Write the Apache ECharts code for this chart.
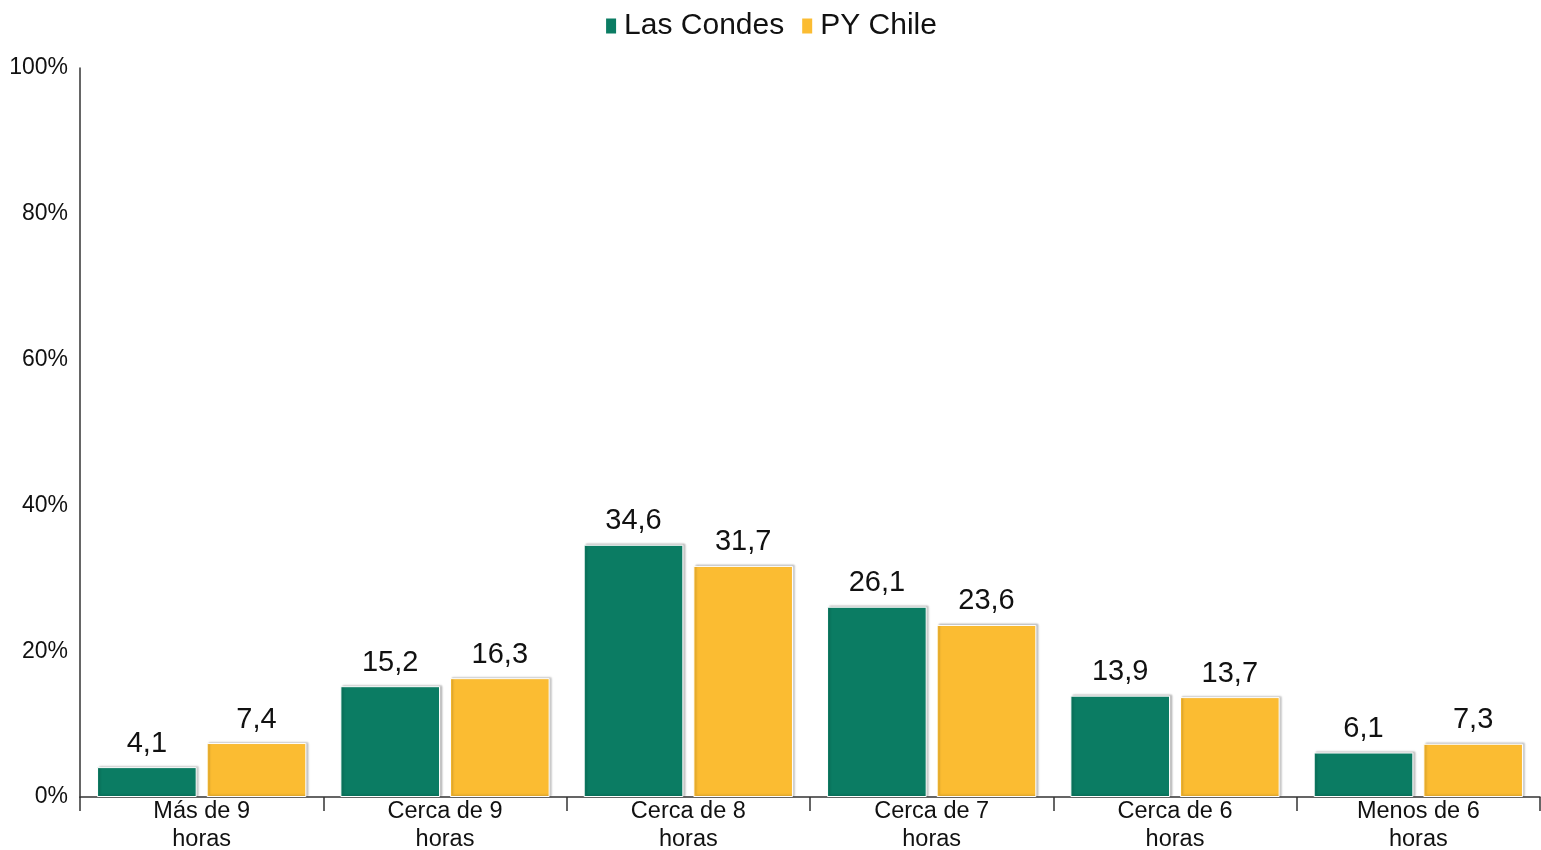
<!DOCTYPE html>
<html>
<head>
<meta charset="utf-8">
<script src="https://cdn.jsdelivr.net/npm/echarts@6/dist/echarts.min.js"></script>
<style>
  html, body { margin: 0; padding: 0; background: #fff; overflow: hidden; }
  #chart { width: 1541px; height: 850px; }
</style>
</head>
<body>
<div id="chart"></div>
<script>
// categorias de horas de sueño
const categories = ['Más de 9\nhoras', 'Cerca de 9\nhoras', 'Cerca de 8\nhoras', 'Cerca de 7\nhoras', 'Cerca de 6\nhoras', 'Menos de 6\nhoras'];
const lasCondes = [4.1, 15.2, 34.6, 26.1, 13.9, 6.1];
const pyChile = [7.4, 16.3, 31.7, 23.6, 13.7, 7.3];
const seriesNames = ['Las Condes', 'PY Chile'];

const font = 'Liberation Sans, Arial, sans-serif';

function barStyle(color) {
  return {
    color: color,
    borderColor: '#ffffff',
    borderWidth: 1,
    shadowColor: 'rgba(0,0,0,0.22)',
    shadowBlur: 2,
    shadowOffsetX: 2,
    shadowOffsetY: -1
  };
}

const labelStyle = {
  show: true,
  position: 'top',
  distance: 9,
  fontFamily: font,
  fontSize: 29,
  color: '#111',
  formatter: p => String(p.value).replace('.', ',')
};

let myChart = echarts.init(document.getElementById('chart'));
myChart.setOption({
  animation: false,
  textStyle: { fontFamily: font },
  legend: {
    data: seriesNames,
    top: 6,
    left: 'center',
    itemWidth: 12,
    itemHeight: 17,
    itemGap: 16,
    icon: 'rect',
    textStyle: { fontSize: 30, color: '#111', fontFamily: font, padding: [0, 0, 0, 2] }
  },
  grid: { left: 80, right: 1, top: 68, bottom: 53, containLabel: false, outerBoundsMode: 'none' },
  xAxis: {
    type: 'category',
    data: categories,
    axisLine: { lineStyle: { color: '#333', width: 1.5 } },
    axisTick: { show: true, length: 14, inside: false, lineStyle: { color: '#333', width: 1.5 } },
    axisLabel: { fontSize: 23.5, color: '#111', lineHeight: 28, margin: 1, fontFamily: font }
  },
  yAxis: {
    type: 'value',
    min: 0,
    max: 100,
    interval: 20,
    splitLine: { show: false },
    axisLine: { show: true, lineStyle: { color: '#333', width: 1.5 } },
    axisTick: { show: false },
    axisLabel: { fontSize: 23, color: '#111', margin: 12, formatter: '{value}%', fontFamily: font }
  },
  series: [
    {
      name: seriesNames[0],
      type: 'bar',
      data: lasCondes,
      barGap: '10%',
      barCategoryGap: '14%',
      itemStyle: barStyle('#0b7c63'),
      label: labelStyle
    },
    {
      name: seriesNames[1],
      type: 'bar',
      data: pyChile,
      barGap: '10%',
      barCategoryGap: '14%',
      itemStyle: barStyle('#fbbc32'),
      label: labelStyle
    }
  ]
});
</script>
</body>
</html>
